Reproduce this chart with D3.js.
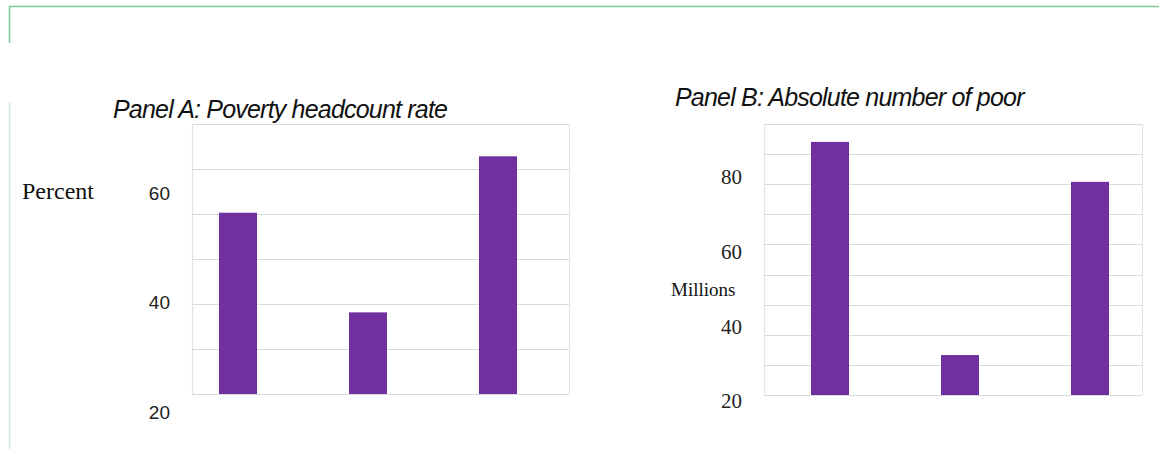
<!DOCTYPE html>
<html>
<head>
<meta charset="utf-8">
<script src="https://cdn.jsdelivr.net/npm/d3@7"></script>
<style>
  body { margin: 0; background: #fff; }
  svg { display: block; }
</style>
</head>
<body>
<svg id="chart"></svg>
<script>
// data
var categories = ["1", "2", "3"];
var rateValues = [56.4, 38.2, 66.7];   // Panel A, percent
var poorValues = [89.4, 32.3, 78.7];   // Panel B, millions
var ticksA = [20, 40, 60];
var ticksB = [20, 40, 60, 80];

var width = 1159, height = 449;
var svg = d3.select("#chart")
    .attr("width", width)
    .attr("height", height);

// green page frame
svg.append("line").attr("x1", 9).attr("x2", width).attr("y1", 6.5).attr("y2", 6.5)
    .attr("stroke", "#7fcb9c").attr("stroke-width", 1.5);
svg.append("line").attr("x1", 9.5).attr("x2", 9.5).attr("y1", 6).attr("y2", 43)
    .attr("stroke", "#7fcb9c").attr("stroke-width", 1.5);
svg.append("line").attr("x1", 9.5).attr("x2", 9.5).attr("y1", 102).attr("y2", 449)
    .attr("stroke", "#d3ecda").attr("stroke-width", 1.5);

var panels = [
    {
        title: "Panel A: Poverty headcount rate", titleX: 113, titleY: 118,
        unit: "Percent", unitX: 22, unitY: 191, unitSize: 24,
        values: rateValues, ticks: ticksA, domain: [20, 60], yRange: [412, 193],
        left: 192, right: 569, top: 124, bottom: 394, bands: 6,
        xRange: [238, 498],
        tickFont: "'Liberation Sans', Arial, sans-serif", tickSize: 19
    },
    {
        title: "Panel B: Absolute number of poor", titleX: 675, titleY: 106,
        unit: "Millions", unitX: 671, unitY: 289, unitSize: 19,
        values: poorValues, ticks: ticksB, domain: [20, 80], yRange: [401, 177],
        left: 764, right: 1142, top: 124, bottom: 395, bands: 9,
        xRange: [830, 1090],
        tickFont: "'Liberation Serif', 'Times New Roman', serif", tickSize: 21
    }
];

var barWidth = 38;

panels.forEach(function(p) {
    var g = svg.append("g");

    var xScale = d3.scalePoint()
        .domain(categories)
        .range(p.xRange);

    var yScale = d3.scaleLinear()
        .domain(p.domain)
        .range(p.yRange);

    var gridScale = d3.scaleLinear()
        .domain([0, p.bands])
        .range([p.bottom, p.top]);

    // gridlines
    g.selectAll(".grid")
        .data(d3.range(p.bands + 1))
        .enter()
        .append("line")
        .attr("x1", p.left)
        .attr("x2", p.right)
        .attr("y1", function(d) { return Math.round(gridScale(d)) + 0.5; })
        .attr("y2", function(d) { return Math.round(gridScale(d)) + 0.5; })
        .attr("stroke", "#dadada")
        .attr("stroke-width", 1.2);

    // side borders
    g.append("line").attr("x1", p.left + 0.5).attr("x2", p.left + 0.5)
        .attr("y1", p.top).attr("y2", p.bottom)
        .attr("stroke", "#e4e4e4").attr("stroke-width", 1.2);
    g.append("line").attr("x1", p.right + 0.5).attr("x2", p.right + 0.5)
        .attr("y1", p.top).attr("y2", p.bottom)
        .attr("stroke", "#e4e4e4").attr("stroke-width", 1.2);

    // bars
    g.selectAll("rect")
        .data(p.values)
        .enter()
        .append("rect")
        .attr("x", function(d, i) { return xScale(categories[i]) - barWidth / 2; })
        .attr("y", function(d) { return yScale(d); })
        .attr("width", barWidth)
        .attr("height", function(d) { return p.bottom - yScale(d); })
        .attr("fill", "#7030a0");

    // tick labels
    var axis = d3.axisLeft(yScale)
        .tickValues(p.ticks)
        .tickSize(0)
        .tickPadding(22)
        .tickFormat(d3.format("d"));
    var ax = g.append("g")
        .attr("transform", "translate(" + p.left + ",0)")
        .call(axis);
    ax.select(".domain").remove();
    ax.selectAll("text")
        .attr("font-family", p.tickFont)
        .attr("font-size", p.tickSize)
        .attr("fill", "#222");

    // unit label
    g.append("text")
        .attr("x", p.unitX)
        .attr("y", p.unitY)
        .attr("dy", "0.35em")
        .attr("font-family", "'Liberation Serif', 'Times New Roman', serif")
        .attr("font-size", p.unitSize)
        .attr("fill", "#111")
        .text(p.unit);

    // title
    g.append("text")
        .attr("x", p.titleX)
        .attr("y", p.titleY)
        .attr("font-family", "'Liberation Sans', Arial, sans-serif")
        .attr("font-style", "italic")
        .attr("font-size", 25)
        .attr("letter-spacing", -0.8)
        .attr("fill", "#111")
        .text(p.title);
});
</script>
</body>
</html>
